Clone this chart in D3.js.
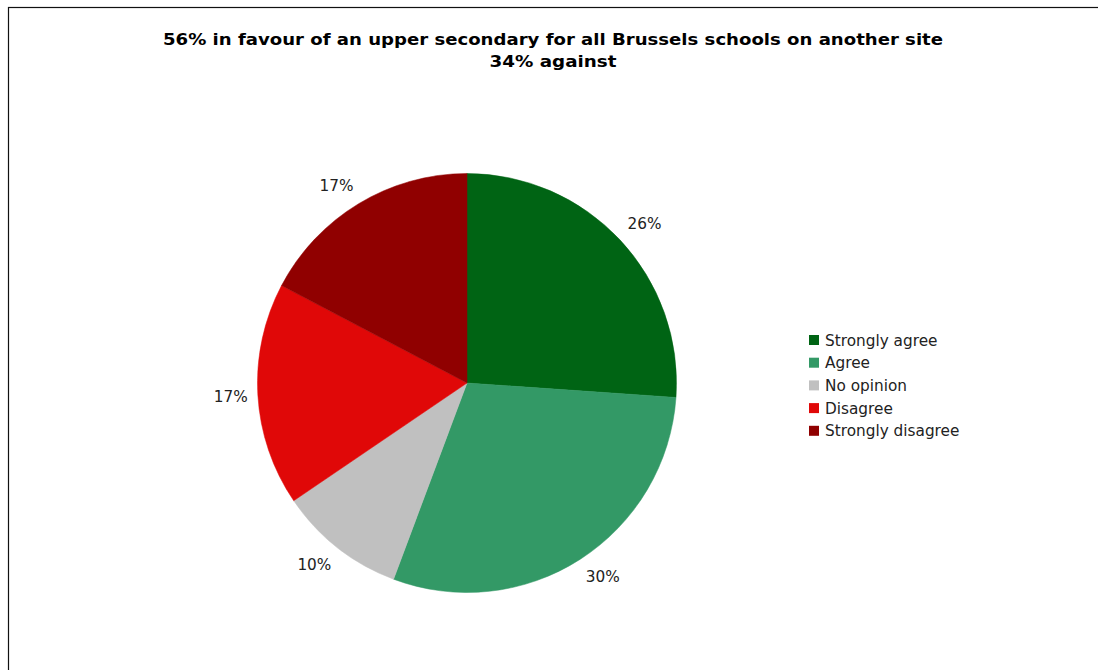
<!DOCTYPE html>
<html>
<head>
<meta charset="utf-8">
<script src="https://cdn.jsdelivr.net/npm/d3@7"></script>
<style>
  html, body { margin: 0; padding: 0; background: #fff; overflow: hidden; }
  svg { display: block; overflow: hidden; }
  text { font-family: "DejaVu Sans", Verdana, sans-serif; }
</style>
</head>
<body>
<svg id="chart" width="1098" height="670"></svg>
<script>
const categories = ["Strongly agree", "Agree", "No opinion", "Disagree", "Strongly disagree"];
const values = [26.1, 29.6, 9.8, 17.2, 17.3];
const labels = ["26%", "30%", "10%", "17%", "17%"];
const colors = ["#006414", "#339966", "#C0C0C0", "#E00808", "#900000"];
const titleLines = ["56% in favour of an upper secondary for all Brussels schools on another site", "34% against"];

const svg = d3.select("#chart");

svg.append("rect")
  .attr("x", 8.5).attr("y", 7.5)
  .attr("width", 1200).attr("height", 800)
  .attr("fill", "#fff").attr("stroke", "#111").attr("stroke-width", 1.2);

const titleWidths = [780, 127];
titleLines.forEach((t, i) => {
  svg.append("text")
    .attr("x", 553).attr("y", 45 + i * 22)
    .attr("text-anchor", "middle")
    .attr("font-weight", "bold")
    .attr("font-size", 16.5)
    .attr("fill", "#000")
    .attr("textLength", titleWidths[i])
    .attr("lengthAdjust", "spacingAndGlyphs")
    .text(t);
});

const cx = 467, cy = 383, r = 209.5;
const color = d3.scaleOrdinal().domain(categories).range(colors);
const pie = d3.pie().sort(null).value(d => d.value);
const data = categories.map((c, i) => ({ cat: c, value: values[i], label: labels[i] }));
const arcs = pie(data);
const arc = d3.arc().innerRadius(0).outerRadius(r);

const g = svg.append("g").attr("transform", `translate(${cx},${cy})`);
g.selectAll("path.slice").data(arcs).enter().append("path")
  .attr("class", "slice")
  .attr("d", arc)
  .attr("fill", d => color(d.data.cat))
  .attr("stroke", d => color(d.data.cat))
  .attr("stroke-width", 0.5);

const clamp = v => Math.max(-1, Math.min(1, v));
const lbl = g.selectAll("text.lbl").data(arcs).enter().append("text")
  .attr("class", "lbl")
  .attr("text-anchor", "middle")
  .attr("dominant-baseline", "central")
  .attr("font-size", 15.3)
  .attr("fill", "#222")
  .text(d => d.data.label);
lbl.each(function(d) {
  const w = this.getComputedTextLength();
  const h = 18;
  const a = (d.startAngle + d.endAngle) / 2;
  const ux = Math.sin(a), uy = -Math.cos(a);
  const rr = r + 10;
  const x = rr * ux + (w / 2) * clamp(ux * 3);
  const y = rr * uy + (h / 2) * clamp(uy * 3);
  d3.select(this).attr("transform", `translate(${x},${y})`);
});

const legend = svg.append("g").attr("transform", "translate(809,340)");
const items = legend.selectAll("g").data(categories).enter().append("g")
  .attr("transform", (d, i) => `translate(0,${i * 22.7})`);
items.append("rect")
  .attr("x", 0).attr("y", -5).attr("width", 10).attr("height", 10)
  .attr("fill", d => color(d));
items.append("text")
  .attr("x", 16).attr("y", 0.5)
  .attr("dominant-baseline", "central")
  .attr("font-size", 15.3)
  .attr("fill", "#222")
  .text(d => d);
</script>
</body>
</html>
